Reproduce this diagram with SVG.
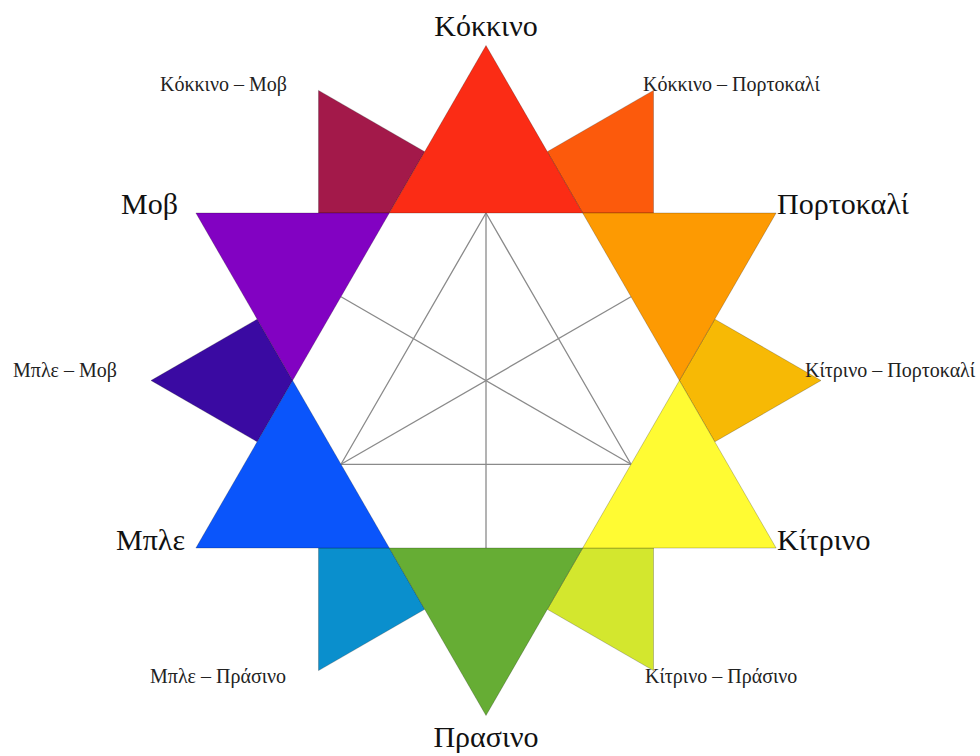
<svg xmlns="http://www.w3.org/2000/svg" width="980" height="756" viewBox="0 0 980 756">
<style>
.sh{stroke:#000;stroke-opacity:0.22;stroke-width:1;stroke-linejoin:round}
.big{font-family:"Liberation Serif","DejaVu Serif",serif;font-size:30px;fill:#111}
.sm{font-family:"Liberation Serif","DejaVu Serif",serif;font-size:20px;fill:#222}
.gl{stroke:#8a8a8a;stroke-width:1.3;fill:none}
</style>
<rect width="980" height="756" fill="#fff"/>
<g id="tertiary">
<g id="red-purple"><polygon class="sh" fill="#A3194A" points="318.5,90.4 424.7,151.7 389.3,213 318.5,213"/><text class="sm" x="160" y="91">Κόκκινο – Μοβ</text></g>
<g id="red-orange"><polygon class="sh" fill="#FC5A0C" points="653.5,90.4 653.5,213 582.7,213 547.3,151.7"/><text class="sm" x="643" y="91">Κόκκινο – Πορτοκαλί</text></g>
<g id="yellow-orange"><polygon class="sh" fill="#F7B905" points="821,380.5 714.8,441.8 679.4,380.5 714.8,319.2"/><text class="sm" x="805" y="377">Κίτρινο – Πορτοκαλί</text></g>
<g id="yellow-green"><polygon class="sh" fill="#D3E72E" points="653.5,670.6 547.3,609.3 582.7,548 653.5,548"/><text class="sm" x="645" y="683">Κίτρινο – Πράσινο</text></g>
<g id="blue-green"><polygon class="sh" fill="#0A8FCD" points="318.5,670.6 318.5,548 389.3,548 424.7,609.3"/><text class="sm" x="150" y="683">Μπλε – Πράσινο</text></g>
<g id="blue-purple"><polygon class="sh" fill="#3A0AA2" points="151,380.5 257.2,319.2 292.6,380.5 257.2,441.8"/><text class="sm" x="13" y="377">Μπλε – Μοβ</text></g>
</g>
<g id="guides">
<line class="gl" x1="486" y1="213" x2="486" y2="548"/>
<line class="gl" x1="341" y1="296.8" x2="631" y2="464.3"/>
<line class="gl" x1="631" y1="296.8" x2="341" y2="464.3"/>
<polygon class="gl" points="486,213 631,464.3 341,464.3"/>
</g>
<g id="red"><polygon class="sh" fill="#FB2C15" points="389.3,213 582.7,213 486,45.5"/><text class="big" x="486" y="36" text-anchor="middle">Κόκκινο</text></g>
<g id="orange"><polygon class="sh" fill="#FD9A02" points="582.7,213 776.1,213 679.4,380.5"/><text class="big" x="777" y="214">Πορτοκαλί</text></g>
<g id="yellow"><polygon class="sh" fill="#FFFB33" points="679.4,380.5 776.1,548 582.7,548"/><text class="big" x="777" y="550">Κίτρινο</text></g>
<g id="green"><polygon class="sh" fill="#66AD34" points="582.7,548 389.3,548 486,715.5"/><text class="big" x="486" y="747" text-anchor="middle">Πρασινο</text></g>
<g id="blue"><polygon class="sh" fill="#0A55FB" points="389.3,548 195.9,548 292.6,380.5"/><text class="big" x="185" y="550" text-anchor="end">Μπλε</text></g>
<g id="purple"><polygon class="sh" fill="#8202C2" points="292.6,380.5 195.9,213 389.3,213"/><text class="big" x="178" y="214" text-anchor="end">Μοβ</text></g>
</svg>
